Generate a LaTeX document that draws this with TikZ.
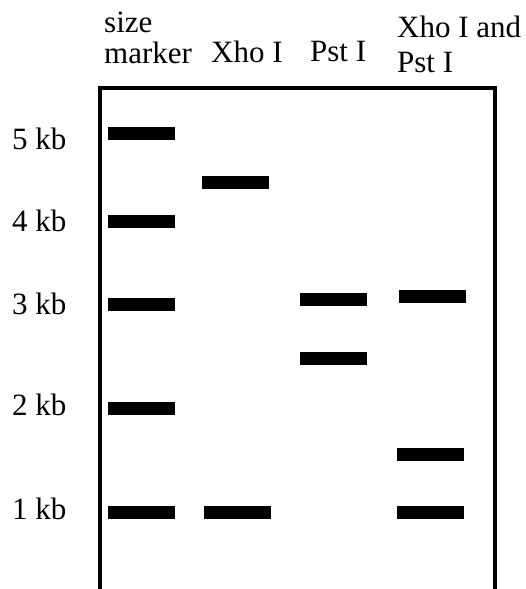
\documentclass[tikz,border=0pt]{standalone}
\usepackage{fontspec}
\setmainfont{Liberation Serif}
\tikzset{
  band/.style={fill=black, minimum width=67pt, minimum height=13pt, inner sep=0pt},
  lbl/.style={anchor=base west, inner sep=0pt, font=\fontsize{31}{32}\selectfont}
}
\begin{document}
\begin{tikzpicture}[x=1pt, y=-1pt]
    \useasboundingbox (0, 0) rectangle (526, 589);

    \coordinate (gelbl) at (100, 589);
    \coordinate (gelbr) at (495, 589);
    \draw[line width=4.5pt] (gelbl) |- (300, 88) -| (gelbr);

    \node[lbl] (hsize) at (104, 32) {size};
    \node[lbl] (hmarker) at (104, 63) {marker};
    \node[lbl] (hxho) at (211, 62) {Xho I};
    \node[lbl] (hpst) at (310, 61) {Pst I};
    \node[lbl] (hboth) at (397, 37) {Xho I and};
    \node[lbl] (hboth2) at (397, 72) {Pst I};

    \node[lbl] (kbfive) at (12, 149) {5 kb};
    \node[lbl] (kbfour) at (12, 231) {4 kb};
    \node[lbl] (kbthree) at (12, 314) {3 kb};
    \node[lbl] (kbtwo) at (12, 415) {2 kb};
    \node[lbl] (kbone) at (12, 519) {1 kb};

    \node[band] (mfive) at (141.5, 133.5) {};
    \node[band] (mfour) at (141.5, 221.5) {};
    \node[band] (mthree) at (141.5, 304.5) {};
    \node[band] (mtwo) at (141.5, 408.5) {};
    \node[band] (mone) at (141.5, 512.5) {};

    \node[band] (xhotop) at (235, 182.5) {};
    \node[band] (xhoone) at (237.5, 512.5) {};

    \node[band] (psttop) at (333.5, 299) {};
    \node[band] (pstlow) at (333.5, 358) {};

    \node[band] (bothtop) at (432.5, 296.5) {};
    \node[band] (bothmid) at (430, 454) {};
    \node[band] (bothone) at (430, 512.5) {};
  \end{tikzpicture}
\end{document}
